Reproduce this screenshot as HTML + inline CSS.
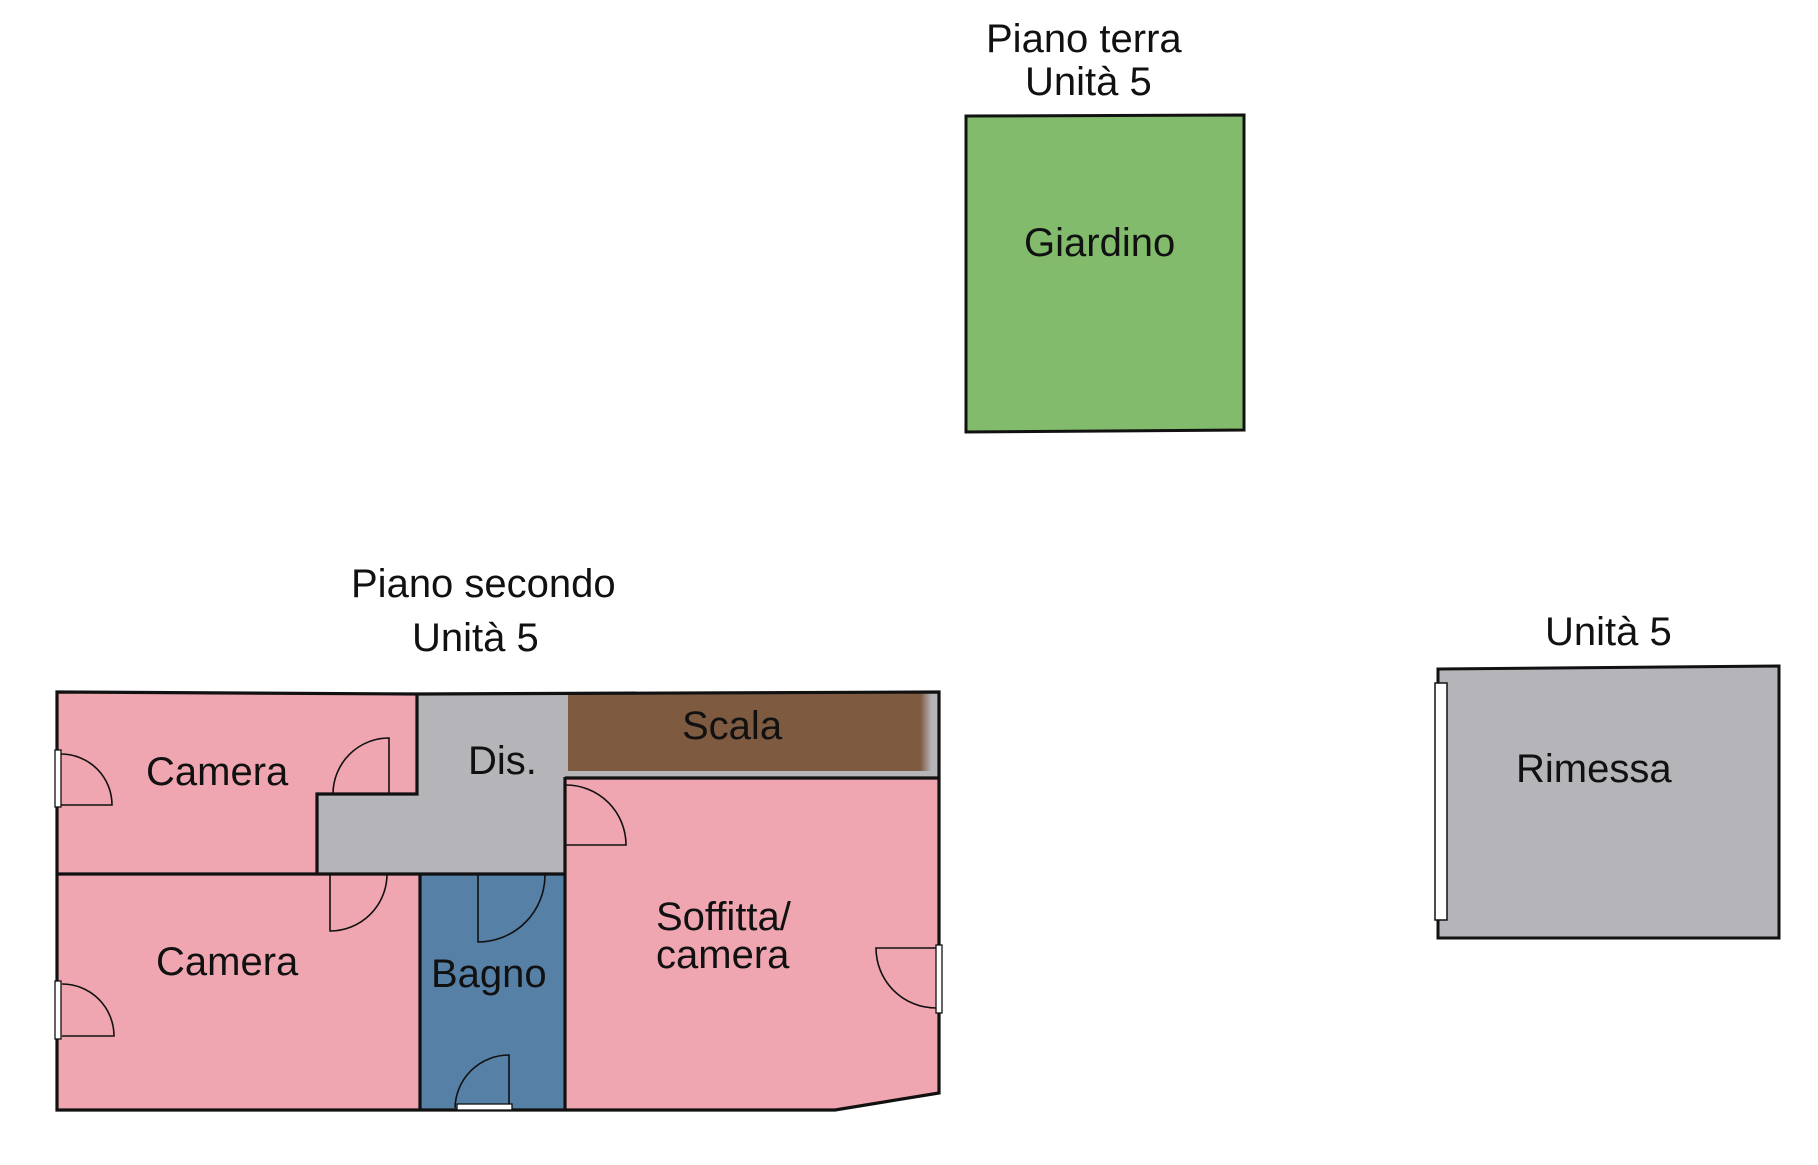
<!DOCTYPE html>
<html>
<head>
<meta charset="utf-8">
<style>
html,body{margin:0;padding:0;background:#fff;}
svg{display:block;}
text{font-family:"Liberation Sans",Arial,sans-serif;font-size:40px;fill:#111;}
</style>
</head>
<body>
<svg width="1818" height="1165" viewBox="0 0 1818 1165" xmlns="http://www.w3.org/2000/svg">
<defs>
<linearGradient id="sc" x1="0" x2="1" y1="0" y2="0">
<stop offset="0" stop-color="#7e5a41"/>
<stop offset="0.955" stop-color="#7e5a41"/>
<stop offset="0.985" stop-color="#b4b4b9"/>
<stop offset="1" stop-color="#b4b4b9"/>
</linearGradient>
</defs>

<!-- Titles -->
<text x="986" y="52">Piano terra</text>
<text x="1025" y="95">Unità 5</text>
<text x="351" y="597">Piano secondo</text>
<text x="412" y="651">Unità 5</text>
<text x="1545" y="645">Unità 5</text>

<!-- Giardino -->
<polygon points="966,116 1244,115 1244,430 966,432" fill="#82bb6b" stroke="#111" stroke-width="3"/>
<text x="1024" y="256">Giardino</text>

<!-- Rimessa -->
<polygon points="1438,669 1779,666 1779,938 1438,938" fill="#b4b4b9" stroke="#111" stroke-width="3"/>
<rect x="1435" y="683" width="12" height="237" fill="#fff" stroke="#111" stroke-width="1.5"/>
<text x="1516" y="782">Rimessa</text>

<!-- Floor plan fills -->
<polygon points="57,692 417,694 417,794 317,794 317,874 57,874" fill="#efa6b1"/>
<polygon points="417,693 939,693 939,777 565,777 565,874 317,874 317,794 417,794" fill="#b4b4b9"/>
<rect x="568" y="693" width="369" height="78" fill="url(#sc)"/>
<polygon points="565,777 939,777 939,1093 835,1110 565,1110" fill="#efa6b1"/>
<polygon points="57,874 420,874 420,1110 57,1110" fill="#efa6b1"/>
<polygon points="420,874 565,874 565,1110 420,1110" fill="#5680a6"/>

<!-- Walls -->
<g fill="none" stroke="#111" stroke-width="3.2" stroke-linejoin="miter">
<polygon points="57,692 417,694 939,692 939,1093 835,1110 57,1110"/>
<polyline points="417,694 417,794 317,794 317,874"/>
<line x1="57" y1="874" x2="566" y2="874"/>
<line x1="420" y1="874" x2="420" y2="1110"/>
<line x1="565" y1="777" x2="565" y2="1110"/>
<line x1="565" y1="778" x2="939" y2="778"/>
</g>

<!-- Doors -->
<g fill="none" stroke="#111" stroke-width="1.6">
<path d="M61,754 A51,51 0 0 1 112,805 L61,805"/>
<path d="M389,794 L389,738 A56,56 0 0 0 333,794"/>
<path d="M330,874 L330,931 A57,57 0 0 0 387,874"/>
<path d="M478,875 L478,942 A67,67 0 0 0 545,875"/>
<path d="M509,1108 L509,1055 A54,54 0 0 0 455,1108"/>
<path d="M62,984 A52,52 0 0 1 114,1036 L62,1036"/>
<path d="M566,785 A60,60 0 0 1 626,845 L566,845"/>
<path d="M936,948 L876,948 A60,60 0 0 0 936,1008"/>
</g>
<g fill="#fff" stroke="#111" stroke-width="1.3">
<rect x="55" y="750" width="6" height="57"/>
<rect x="55" y="981" width="6" height="58"/>
<rect x="457" y="1104" width="55" height="6"/>
<rect x="936" y="945" width="6" height="68"/>
</g>

<!-- Room labels -->
<text x="146" y="785">Camera</text>
<text x="468" y="774">Dis.</text>
<text x="682" y="739">Scala</text>
<text x="156" y="975">Camera</text>
<text x="431" y="987">Bagno</text>
<text x="656" y="930">Soffitta/</text>
<text x="656" y="968">camera</text>
</svg>
</body>
</html>
